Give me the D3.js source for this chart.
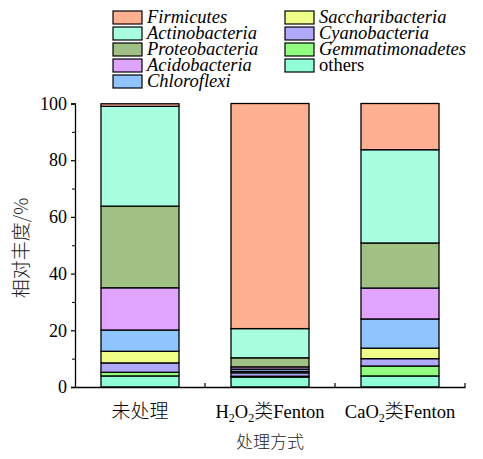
<!DOCTYPE html>
<html><head><meta charset="utf-8">
<script src="https://cdn.jsdelivr.net/npm/d3@7"></script>
<style>body{margin:0;background:#fff}</style>
</head><body>
<svg id="c" width="483" height="459"></svg>
<script>
const categories = ["未处理", "H2O2类Fenton", "CaO2类Fenton"];
const series = ["others","Gemmatimonadetes","Cyanobacteria","Saccharibacteria","Chloroflexi","Acidobacteria","Proteobacteria","Actinobacteria","Firmicutes"];
const others           = [3.9, 3.5, 3.9];
const Gemmatimonadetes = [1.3, 0.3, 3.5];
const Cyanobacteria    = [3.3, 1.2, 2.6];
const Saccharibacteria = [4.1, 0.5, 3.7];
const Chloroflexi      = [7.5, 0.8, 10.3];
const Acidobacteria    = [14.9, 0.8, 10.9];
const Proteobacteria   = [28.8, 3.2, 15.9];
const Actinobacteria   = [35.2, 10.3, 32.9];
const Firmicutes       = [0.9, 79.4, 16.3];
const colors = ["#90ffd8","#90ff80","#b0a8f8","#f0ff88","#90c4ff","#e0a4ff","#a0c084","#a8ffe0","#ffb090"];
const legendOrder = ["Firmicutes","Actinobacteria","Proteobacteria","Acidobacteria","Chloroflexi","Saccharibacteria","Cyanobacteria","Gemmatimonadetes","others"];
const yTicks = [0,20,40,60,80,100];

const valueMap = {others,Gemmatimonadetes,Cyanobacteria,Saccharibacteria,Chloroflexi,Acidobacteria,Proteobacteria,Actinobacteria,Firmicutes};
const color = d3.scaleOrdinal(series, colors);
const data = categories.map((c,i)=>{const o={cat:c}; series.forEach(s=>o[s]=valueMap[s][i]); return o;});
const stacked = d3.stack().keys(series)(data);

const svg = d3.select("#c");
const font = "'Liberation Serif'";
const cjk = "'Noto Sans CJK SC'";
const x = d3.scaleBand().domain(categories).range([75,465]).paddingInner(0.4).paddingOuter(0.2);
const y = d3.scaleLinear().domain([0,100]).range([387,103.5]);

// bars
svg.append("g").selectAll("g").data(stacked).join("g")
  .attr("fill", d=>color(d.key))
  .selectAll("rect").data(d=>d).join("rect")
  .attr("x", d=>x(d.data.cat))
  .attr("width", x.bandwidth())
  .attr("y", d=>y(d[1]))
  .attr("height", d=>y(d[0])-y(d[1]))
  .attr("stroke","#000").attr("stroke-width",1.3);

// y axis
const ya = svg.append("g").attr("transform","translate(75,0)")
  .call(d3.axisLeft(y).tickValues(yTicks).tickSize(4).tickPadding(4));
ya.selectAll(".tick text").attr("font-family",font).attr("font-size",18).attr("fill","#000");
ya.select(".domain").attr("stroke","#000").attr("stroke-width",1.3);
ya.selectAll(".tick line").attr("stroke-width",1.2);
svg.append("g").attr("transform","translate(75,0)")
  .call(d3.axisLeft(y).tickValues([10,30,50,70,90]).tickSize(3).tickFormat(""))
  .call(g=>g.select(".domain").remove());

// x axis
const xa = svg.append("g").attr("transform","translate(0,387)")
  .call(d3.axisBottom(x).tickSize(0).tickFormat(""));
xa.select(".domain").attr("stroke","#000").attr("stroke-width",1.3);
svg.append("g").selectAll("line").data(categories.slice(1).map(c=>x(c)-x.step()*x.paddingInner()/2).concat([x.range()[1]]))
  .join("line").attr("x1",d=>d).attr("x2",d=>d).attr("y1",387).attr("y2",383).attr("stroke","#000").attr("stroke-width",1.2);

// x labels with subscripts
const lab = svg.append("g");
categories.forEach(c=>{
  const t = lab.append("text").attr("x", x(c)+x.bandwidth()/2).attr("y",418)
    .attr("text-anchor","middle").attr("font-family",font).attr("font-size",18.5).attr("fill","#000");
  const parts = c.split(/(\d|[\u4e00-\u9fff]+)/).filter(p=>p);
  let shift = 0;
  parts.forEach(p=>{
    if(/^\d$/.test(p)){
      t.append("tspan").text(p).attr("font-size",12).attr("dy",4-shift);
      shift = 4;
    } else {
      const ts = t.append("tspan").text(p).attr("dy",-shift);
      shift = 0;
      if(/[\u4e00-\u9fff]/.test(p)) ts.attr("font-family",cjk).attr("font-weight",300).attr("font-size",19);
    }
  });
});
svg.append("text").attr("x",270).attr("y",448).attr("text-anchor","middle")
  .attr("font-family",cjk).attr("font-size",17).attr("font-weight",300).attr("fill","#222").text("处理方式");
svg.append("text").attr("transform","translate(28,248) rotate(-90)").attr("text-anchor","middle")
  .attr("font-family",cjk).attr("font-size",19).attr("font-weight",300).attr("fill","#222").text("相对丰度/%");

// legend
const leg = svg.append("g");
legendOrder.forEach((s,i)=>{
  const col = i<5?0:1, row = i<5?i:i-5;
  const gx = col===0?113:285, gy = 10+row*16;
  leg.append("rect").attr("x",gx).attr("y",gy+1).attr("width",29).attr("height",13)
    .attr("fill",color(s)).attr("stroke","#000").attr("stroke-width",1.2);
  leg.append("text").attr("x",gx+34).attr("y",gy+13).attr("font-family",font)
    .attr("font-size",18.5).attr("font-style",s==="others"?"normal":"italic").attr("fill","#000").text(s);
});
</script>
</body></html>
